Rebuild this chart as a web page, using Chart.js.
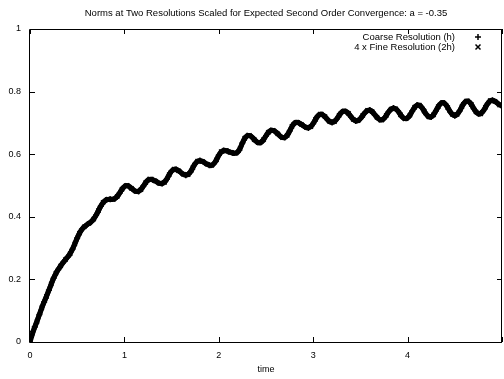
<!DOCTYPE html>
<html>
<head>
<meta charset="utf-8">
<script src="https://cdn.jsdelivr.net/npm/chart.js@4/dist/chart.umd.min.js"></script>
<style>
  html, body { margin: 0; padding: 0; background: #fff; }
  #c { display: block; }
</style>
</head>
<body>
<canvas id="c" width="504" height="379"></canvas>
<script>
// ---- Data ----
const titleText = "Norms at Two Resolutions Scaled for Expected Second Order Convergence: a = -0.35";
const xLabel = "time";
const seriesNames = ["Coarse Resolution (h)", "4 x Fine Resolution (2h)"];
const xTicks = [0, 1, 2, 3, 4];
const yTicks = [0, 0.2, 0.4, 0.6, 0.8, 1];
const timeStep = 0.05;      // sample spacing of each series
const fineOffset = 0.025;   // fine samples fall between coarse samples

// coarse series: t = 0, 0.05, ..., 5.0
const coarseValues = [
  0.000, 0.048, 0.088, 0.128, 0.165, 0.204, 0.232, 0.254, 0.272, 0.296,
  0.332, 0.360, 0.374, 0.384, 0.405, 0.434, 0.453, 0.456, 0.458, 0.476,
  0.497, 0.497, 0.485, 0.481, 0.498, 0.518, 0.518, 0.510, 0.506, 0.521,
  0.546, 0.551, 0.541, 0.533, 0.543, 0.570, 0.580, 0.573, 0.565, 0.570,
  0.597, 0.612, 0.609, 0.604, 0.606, 0.636, 0.659, 0.655, 0.640, 0.638,
  0.659, 0.676, 0.672, 0.658, 0.653, 0.674, 0.699, 0.700, 0.690, 0.684,
  0.698, 0.723, 0.726, 0.711, 0.701, 0.713, 0.734, 0.736, 0.720, 0.706,
  0.714, 0.733, 0.741, 0.727, 0.711, 0.714, 0.736, 0.748, 0.737, 0.717,
  0.716, 0.738, 0.757, 0.749, 0.727, 0.719, 0.739, 0.762, 0.760, 0.736,
  0.723, 0.738, 0.764, 0.768, 0.746, 0.729, 0.738, 0.762, 0.772, 0.763,
  0.753
];

// fine series: t = 0.025, 0.075, ..., 4.975
const fineValues = [
  0.028, 0.066, 0.110, 0.146, 0.185, 0.220, 0.243, 0.263, 0.282, 0.314,
  0.348, 0.368, 0.379, 0.393, 0.420, 0.446, 0.456, 0.456, 0.465, 0.488,
  0.500, 0.491, 0.481, 0.487, 0.509, 0.520, 0.515, 0.507, 0.510, 0.535,
  0.552, 0.547, 0.536, 0.535, 0.557, 0.578, 0.577, 0.568, 0.564, 0.582,
  0.608, 0.611, 0.606, 0.603, 0.618, 0.651, 0.660, 0.647, 0.636, 0.647,
  0.670, 0.676, 0.665, 0.653, 0.660, 0.689, 0.702, 0.695, 0.686, 0.688,
  0.711, 0.728, 0.720, 0.704, 0.704, 0.724, 0.738, 0.730, 0.711, 0.707,
  0.724, 0.740, 0.736, 0.718, 0.709, 0.724, 0.744, 0.745, 0.726, 0.713,
  0.725, 0.750, 0.757, 0.738, 0.719, 0.726, 0.752, 0.765, 0.749, 0.727,
  0.727, 0.752, 0.770, 0.759, 0.735, 0.729, 0.750, 0.771, 0.769, 0.757
];

// ---- Build datasets ----
const coarsePts = coarseValues.map((v, i) => ({ x: +(i * timeStep).toFixed(3), y: v }));
const finePts = fineValues.map((v, i) => ({ x: +(fineOffset + i * timeStep).toFixed(3), y: v }));

const FONT = '"Liberation Sans", Arial, Helvetica, sans-serif';

// Gnuplot-like frame, inward ticks, title and legend
const framePlugin = {
  id: 'frame',
  afterDraw(chart) {
    const { ctx, chartArea: a, scales } = chart;
    const xs = scales.x, ys = scales.y;
    ctx.save();
    ctx.strokeStyle = '#000';
    ctx.lineWidth = 1;
    ctx.beginPath();
    ctx.rect(Math.round(a.left) - 0.5, Math.round(a.top) + 0.5,
             Math.round(a.right - a.left), Math.round(a.bottom - a.top));
    ctx.stroke();
    const tl = 5;
    ctx.beginPath();
    for (const v of xTicks.concat([5])) {
      const px = Math.round(xs.getPixelForValue(v)) + 0.5;
      ctx.moveTo(px, a.bottom); ctx.lineTo(px, a.bottom - tl);
      ctx.moveTo(px, a.top); ctx.lineTo(px, a.top + tl);
    }
    for (const v of yTicks) {
      const py = Math.round(ys.getPixelForValue(v)) + 0.5;
      ctx.moveTo(a.left, py); ctx.lineTo(a.left + tl, py);
      ctx.moveTo(a.right, py); ctx.lineTo(a.right - tl, py);
    }
    ctx.stroke();

    // title
    ctx.fillStyle = '#000';
    ctx.font = '9.5px ' + FONT;
    ctx.textAlign = 'center';
    ctx.textBaseline = 'middle';
    ctx.fillText(titleText, (a.left + a.right) / 2, 13);

    // legend
    ctx.textAlign = 'right';
    ctx.font = '9.5px ' + FONT;
    const tx = a.right - 47, mx = a.right - 24;
    const rows = [a.top + 8, a.top + 18];
    ctx.fillText(seriesNames[0], tx, rows[0]);
    ctx.fillText(seriesNames[1], tx, rows[1]);
    ctx.lineWidth = 1.5;
    ctx.beginPath();
    ctx.moveTo(mx - 3, rows[0]); ctx.lineTo(mx + 3, rows[0]);
    ctx.moveTo(mx, rows[0] - 3); ctx.lineTo(mx, rows[0] + 3);
    ctx.moveTo(mx - 2.5, rows[1] - 2.5); ctx.lineTo(mx + 2.5, rows[1] + 2.5);
    ctx.moveTo(mx - 2.5, rows[1] + 2.5); ctx.lineTo(mx + 2.5, rows[1] - 2.5);
    ctx.stroke();
    ctx.restore();
  }
};

new Chart(document.getElementById('c'), {
  type: 'scatter',
  data: {
    datasets: [
      {
        label: seriesNames[0],
        data: coarsePts,
        showLine: true,
        borderColor: '#000',
        backgroundColor: '#000',
        borderWidth: 5,
        tension: 0.4,
        pointStyle: 'cross',
        pointRadius: 3,
        pointBorderWidth: 1.5,
        pointBorderColor: '#000'
      },
      {
        label: seriesNames[1],
        data: finePts,
        showLine: true,
        borderColor: '#000',
        backgroundColor: '#000',
        borderWidth: 5,
        tension: 0.4,
        pointStyle: 'crossRot',
        pointRadius: 3,
        pointBorderWidth: 1.5,
        pointBorderColor: '#000'
      }
    ]
  },
  options: {
    responsive: false,
    animation: false,
    devicePixelRatio: 1,
    layout: { autoPadding: false, padding: { top: 29, right: 2, left: 0, bottom: 0 } },
    plugins: {
      legend: { display: false },
      title: { display: false },
      tooltip: { enabled: false }
    },
    scales: {
      x: {
        type: 'linear',
        min: 0, max: 5,
        afterBuildTicks(scale) { scale.ticks = xTicks.map(v => ({ value: v })); },
        afterFit(scale) { scale.height = 37; scale.paddingRight = 0; },
        grid: { display: false, drawTicks: false },
        border: { display: false },
        ticks: { color: '#000', padding: 8, font: { family: FONT, size: 9 } },
        title: {
          display: true, text: xLabel, color: '#000',
          font: { family: FONT, size: 9 }, padding: { top: 0, bottom: 4 }
        }
      },
      y: {
        type: 'linear',
        min: 0, max: 1,
        afterBuildTicks(scale) { scale.ticks = yTicks.map(v => ({ value: v })); },
        afterFit(scale) { scale.width = 30; },
        grid: { display: false, drawTicks: false },
        border: { display: false },
        ticks: {
          color: '#000', padding: 9, font: { family: FONT, size: 9 },
          callback: v => String(+v.toFixed(1))
        }
      }
    }
  },
  plugins: [framePlugin]
});
</script>
</body>
</html>
